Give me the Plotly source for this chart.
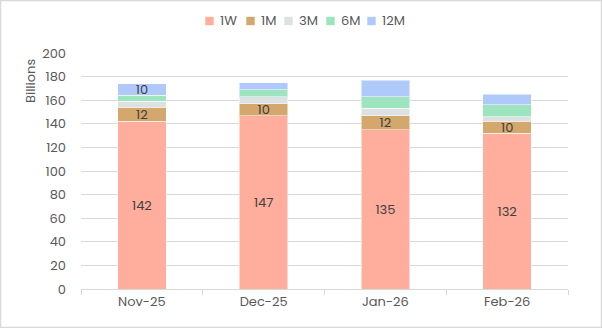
import plotly.graph_objects as go

categories = ["Nov-25", "Dec-25", "Jan-26", "Feb-26"]
series_names = ["1W", "1M", "3M", "6M", "12M"]
v_1w = [142, 147, 135, 132]
v_1m = [12, 10, 12, 10]
v_3m = [5, 6, 6, 4]
v_6m = [5, 6, 10, 10]
v_12m = [10, 6, 14, 9]
labels_1w = ["142", "147", "135", "132"]
labels_1m = ["12", "10", "12", "10"]
labels_3m = ["", "", "", ""]
labels_6m = ["", "", "", ""]
labels_12m = ["10", "", "", ""]

colors = ["#FFAD9C", "#D4A76C", "#DCE1E1", "#9DE4BF", "#AEC9FA"]
values = [v_1w, v_1m, v_3m, v_6m, v_12m]
texts = [labels_1w, labels_1m, labels_3m, labels_6m, labels_12m]

FONT = "Poppins, Inter, Noto Sans, sans-serif"
L, R, T, B = 81, 34, 53, 39
PW, PH = 602 - L - R, 328 - T - B

def px_x(p):
    return (p - L) / PW

def px_y(p):
    return (328 - B - p) / PH

fig = go.Figure()
for name, vals, txt, col in zip(series_names, values, texts, colors):
    fig.add_trace(go.Bar(
        x=categories, y=vals, name=name, text=txt,
        textposition="inside", insidetextanchor="middle", textangle=0,
        constraintext="none", showlegend=False,
        textfont=dict(size=13, color="#404040", family=FONT),
        marker=dict(color=col, line=dict(color="rgba(255,255,255,0.5)", width=1)),
        width=0.4,
    ))

fig.update_layout(
    barmode="stack",
    width=602, height=328,
    margin=dict(l=L, r=R, t=T, b=B),
    paper_bgcolor="white", plot_bgcolor="white",
    font=dict(family=FONT, size=13, color="#595959"),
    xaxis=dict(showgrid=False, showline=True, linecolor="#D9D9D9", linewidth=1,
               ticks="outside", ticklen=5, tickcolor="#D9D9D9",
               tickson="boundaries", tickfont=dict(size=13, color="#595959")),
    yaxis=dict(range=[0, 200], dtick=20, showgrid=True, gridcolor="#D9D9D9",
               gridwidth=1, zeroline=False, showline=False, ticks="",
               tickfont=dict(size=13, color="#595959"), ticklabelstandoff=14),
    bargap=0.6,
)

# manual compact legend (swatch + label)
legend_swatch_px = [205, 246, 284, 326, 367]
legend_y_px = 21
for name, col, sx in zip(series_names, colors, legend_swatch_px):
    fig.add_shape(type="rect", xref="paper", yref="paper",
                  x0=px_x(sx), x1=px_x(sx + 9),
                  y0=px_y(legend_y_px + 4.5), y1=px_y(legend_y_px - 4.5),
                  fillcolor=col, line=dict(color="rgba(255,255,255,0.6)", width=1))
    fig.add_annotation(text=name, xref="paper", yref="paper",
                       x=px_x(sx + 13), y=px_y(legend_y_px), xanchor="left",
                       yanchor="middle", showarrow=False,
                       font=dict(size=13, color="#595959", family=FONT))

fig.add_annotation(text="Billions", xref="paper", yref="paper", x=px_x(30), y=px_y(81),
                   textangle=-90, showarrow=False, xanchor="center", yanchor="middle",
                   font=dict(size=13, color="#595959", family=FONT))
fig.add_shape(type="rect", xref="paper", yref="paper", x0=px_x(0.5), x1=px_x(601.5),
              y0=px_y(327.5), y1=px_y(0.5), line=dict(color="#D9D9D9", width=1.5),
              layer="below")
fig.write_html("out.html")
